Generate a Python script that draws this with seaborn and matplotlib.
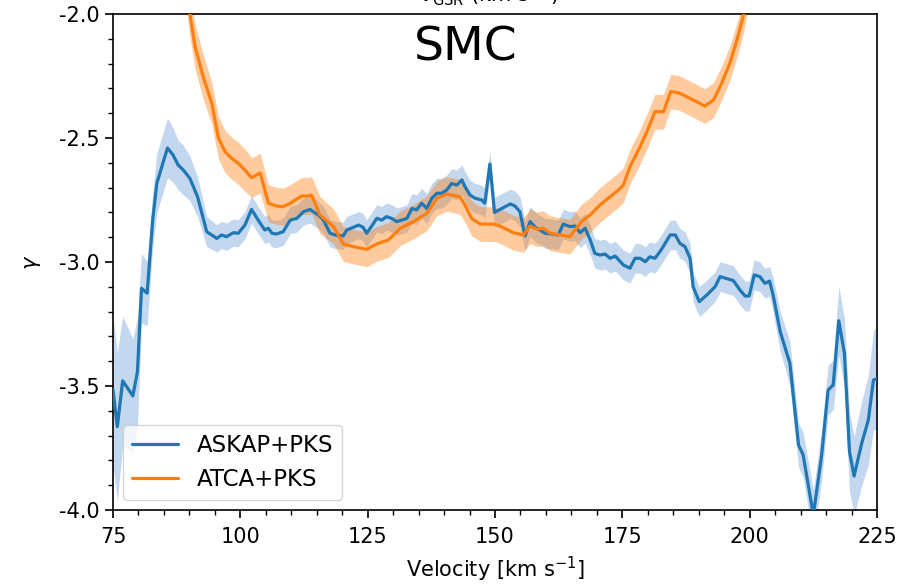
import numpy as np
import pandas as pd
import matplotlib
matplotlib.use("Agg")
import matplotlib.pyplot as plt
from matplotlib.ticker import MultipleLocator
import seaborn as sns

# ---------------- data ----------------
askap_v = [75.0, 75.85, 76.9, 78.9, 79.8, 80.6, 81.7, 82.8, 83.6, 85.7, 86.8, 87.8, 88.8,
           90.1, 91.6, 93.4, 95.4, 96.3, 97.3, 98.6, 99.6, 100.9, 102.2, 103.5, 104.8,
           105.5, 106.2, 107.1, 108.4, 109.8, 111.1, 112.4, 113.7, 114.3, 115.3, 116.3,
           117.6, 118.6, 120.2, 120.9, 122.2, 123.2, 124.1, 124.8, 125.8, 126.8, 127.8,
           128.7, 129.7, 130.7, 131.7, 132.7, 133.7, 134.6, 135.6, 136.6, 137.6, 138.6,
           139.5, 140.5, 141.5, 142.5, 143.5, 144.1, 145.1, 146.1, 147.4, 148.0, 149.0,
           149.9, 151.0, 152.0, 153.0, 153.9, 154.9, 155.9, 156.9, 157.9, 158.8, 159.8,
           161.1, 162.4, 163.4, 164.7, 165.7, 166.7, 167.7, 168.7, 169.6, 170.6, 171.6,
           172.6, 173.6, 175.2, 176.5, 177.5, 178.5, 179.5, 180.4, 181.4, 182.4, 183.4,
           184.4, 185.4, 186.3, 187.3, 188.3, 188.9, 190.1, 191.6, 193.2, 194.2, 196.8,
           198.1, 199.1, 199.9, 200.9, 202.0, 203.0, 203.9, 204.6, 206.0, 207.9, 209.6,
           210.5, 212.5, 214.1, 215.4, 216.4, 217.5, 218.6, 219.6, 220.5, 222.0, 223.3,
           224.3, 225.0]
askap_g = [-3.516, -3.664, -3.479, -3.540, -3.442, -3.106, -3.126, -2.830, -2.683, -2.540,
           -2.569, -2.609, -2.629, -2.663, -2.737, -2.878, -2.905, -2.891, -2.898, -2.882,
           -2.884, -2.851, -2.788, -2.831, -2.871, -2.864, -2.884, -2.887, -2.878, -2.831,
           -2.824, -2.797, -2.788, -2.797, -2.810, -2.830, -2.884, -2.891, -2.895, -2.871,
           -2.860, -2.851, -2.860, -2.884, -2.855, -2.824, -2.831, -2.817, -2.824, -2.837,
           -2.831, -2.824, -2.784, -2.790, -2.763, -2.784, -2.743, -2.723, -2.723, -2.710,
           -2.683, -2.690, -2.669, -2.696, -2.730, -2.743, -2.750, -2.763, -2.605, -2.800,
           -2.788, -2.777, -2.766, -2.774, -2.797, -2.895, -2.837, -2.860, -2.871, -2.884,
           -2.887, -2.891, -2.847, -2.857, -2.855, -2.882, -2.864, -2.911, -2.965, -2.972,
           -2.968, -2.985, -2.976, -3.012, -3.025, -2.985, -2.985, -2.999, -2.979, -2.985,
           -2.958, -2.925, -2.891, -2.891, -2.925, -2.938, -2.985, -3.100, -3.160, -3.133,
           -3.100, -3.059, -3.075, -3.113, -3.137, -3.137, -3.052, -3.059, -3.086, -3.077,
           -3.133, -3.281, -3.409, -3.738, -3.778, -4.020, -3.785, -3.516, -3.496, -3.237,
           -3.368, -3.765, -3.863, -3.731, -3.637, -3.476, -3.470]
askap_err = [0.30, 0.30, 0.26, 0.23, 0.22, 0.14, 0.13, 0.11, 0.12, 0.12,
             0.11, 0.10, 0.10, 0.09, 0.08, 0.06, 0.055, 0.055, 0.055, 0.055,
             0.055, 0.055, 0.055, 0.055, 0.055, 0.055, 0.055, 0.055, 0.055, 0.055,
             0.055, 0.055, 0.055, 0.055, 0.055, 0.055, 0.055, 0.055, 0.055, 0.055,
             0.055, 0.055, 0.055, 0.055, 0.055, 0.055, 0.055, 0.055, 0.055, 0.055,
             0.055, 0.055, 0.06, 0.06, 0.06, 0.06, 0.06, 0.06, 0.06, 0.06,
             0.06, 0.06, 0.06, 0.06, 0.06, 0.06, 0.06, 0.06, 0.05, 0.06,
             0.06, 0.06, 0.06, 0.06, 0.06, 0.06, 0.06, 0.06, 0.06, 0.06,
             0.06, 0.06, 0.06, 0.06, 0.06, 0.06, 0.06, 0.06, 0.06, 0.06,
             0.06, 0.06, 0.06, 0.06, 0.06, 0.06, 0.06, 0.06, 0.06, 0.06,
             0.06, 0.06, 0.06, 0.06, 0.06, 0.06, 0.06, 0.06, 0.06, 0.06,
             0.06, 0.06, 0.06, 0.06, 0.06, 0.06, 0.06, 0.06, 0.06, 0.06,
             0.07, 0.08, 0.09, 0.09, 0.09, 0.10, 0.10, 0.10, 0.10, 0.14,
             0.14, 0.16, 0.16, 0.17, 0.18, 0.20, 0.21]

atca_v = [89.0, 90.1, 91.1, 92.7, 94.4, 95.7, 97.0, 98.3, 99.6, 100.9, 102.2, 103.9,
          105.5, 107.1, 108.4, 109.8, 112.0, 113.3, 114.0, 115.6, 118.3, 120.2, 122.2,
          124.8, 126.8, 129.1, 131.4, 134.0, 136.6, 138.6, 140.5, 143.1, 144.1, 145.4,
          147.1, 149.7, 151.0, 153.6, 155.6, 156.9, 158.2, 159.5, 160.8, 162.8, 164.7,
          165.7, 167.0, 168.7, 170.6, 172.6, 174.2, 175.2, 176.5, 178.5, 180.1, 181.4,
          183.1, 184.5, 186.0, 187.6, 189.6, 191.2, 192.9, 194.5, 196.1, 197.5, 198.8,
          200.0]
atca_g = [-1.800, -2.000, -2.130, -2.253, -2.360, -2.500, -2.555, -2.582, -2.602, -2.629,
          -2.660, -2.641, -2.763, -2.774, -2.777, -2.763, -2.734, -2.734, -2.730, -2.810,
          -2.857, -2.927, -2.938, -2.949, -2.927, -2.911, -2.864, -2.837, -2.804, -2.743,
          -2.726, -2.737, -2.770, -2.824, -2.847, -2.847, -2.855, -2.882, -2.891, -2.855,
          -2.868, -2.864, -2.884, -2.891, -2.898, -2.871, -2.837, -2.810, -2.770, -2.737,
          -2.710, -2.690, -2.616, -2.535, -2.461, -2.394, -2.394, -2.313, -2.317, -2.333,
          -2.354, -2.371, -2.347, -2.279, -2.199, -2.105, -2.004, -1.880]
atca_err = [0.09, 0.09, 0.09, 0.09, 0.085, 0.085, 0.085, 0.085, 0.085, 0.085, 0.08, 0.08,
            0.075, 0.075, 0.075, 0.075, 0.075, 0.075, 0.075, 0.075, 0.07, 0.07, 0.07,
            0.07, 0.07, 0.07, 0.07, 0.07, 0.07, 0.07, 0.07, 0.07, 0.07, 0.07,
            0.07, 0.07, 0.07, 0.07, 0.07, 0.07, 0.07, 0.07, 0.07, 0.07, 0.07,
            0.07, 0.07, 0.07, 0.07, 0.07, 0.07, 0.07, 0.07, 0.07, 0.07, 0.07,
            0.07, 0.07, 0.07, 0.07, 0.07, 0.07, 0.07, 0.07, 0.07, 0.07, 0.07,
            0.07]

series_names = ["ASKAP+PKS", "ATCA+PKS"]
x_ticks = [75, 100, 125, 150, 175, 200, 225]
y_ticks = [-4.0, -3.5, -3.0, -2.5, -2.0]

# ---------------- figure ----------------
sns.set_theme(style="ticks")
plt.rcParams["font.family"] = ["DejaVu Sans"]
plt.rcParams["axes.unicode_minus"] = False
plt.rcParams["text.color"] = "black"
plt.rcParams["axes.labelcolor"] = "black"
plt.rcParams["xtick.color"] = "black"
plt.rcParams["ytick.color"] = "black"

df = pd.concat([
    pd.DataFrame({"v": askap_v, "g": askap_g, "err": askap_err, "set": series_names[0]}),
    pd.DataFrame({"v": atca_v, "g": atca_g, "err": atca_err, "set": series_names[1]}),
], ignore_index=True)

fig = plt.figure(figsize=(9.07, 5.84), dpi=100)
ax = fig.add_axes([113 / 907, 1 - 510 / 584, 764 / 907, 496 / 584])

line_cols = {"ASKAP+PKS": "#1f77b4", "ATCA+PKS": "#ff7f0e"}
fill_cols = {"ASKAP+PKS": ("#6b9bd8", 0.4), "ATCA+PKS": ("#ff7f0e", 0.4)}

for name in series_names:
    d = df[df["set"] == name]
    c, a = fill_cols[name]
    ax.fill_between(d["v"], d["g"] - d["err"], d["g"] + d["err"], color=c, alpha=a,
                    linewidth=0, zorder=1)

sns.lineplot(data=df, x="v", y="g", hue="set", palette=line_cols, hue_order=series_names,
             linewidth=2.3, ax=ax, sort=False, estimator=None, zorder=3)

ax.set_xlim(75, 225)
ax.set_ylim(-4.0, -2.0)
ax.set_xticks(x_ticks)
ax.set_yticks(y_ticks)
ax.set_xticklabels([str(t) for t in x_ticks])
ax.set_yticklabels([f"{t:.1f}" for t in y_ticks])
ax.xaxis.set_minor_locator(MultipleLocator(5))
ax.yaxis.set_minor_locator(MultipleLocator(0.1))
ax.tick_params(which="major", direction="out", length=6, width=1.2, labelsize=15,
               color="black", labelcolor="black")
ax.tick_params(axis="x", which="major", pad=6)
ax.tick_params(which="minor", direction="out", length=3.5, width=1.0, color="black")
for s in ax.spines.values():
    s.set_visible(True)
    s.set_color("black")
    s.set_linewidth(1.2)

ax.set_xlabel("Velocity [km s$^{-1}$]", fontsize=15, labelpad=5.5, color="black")
ax.set_ylabel(r"$\gamma$", fontsize=15, labelpad=12, color="black")

ax.text(0.461, 0.931, "SMC", transform=ax.transAxes, ha="center", va="center",
        fontsize=34, color="black")

leg = ax.legend(loc="lower left", fontsize=16.5, frameon=True, handlelength=2.0,
                labelspacing=0.45, borderaxespad=0.45)
leg.get_frame().set_edgecolor("#cccccc")
for t in leg.get_texts():
    t.set_color("black")
for h in leg.get_lines():
    h.set_linewidth(2.3)

# label of the panel above, mostly cut off by the figure edge
fig.text(0.54, 1 - 1.5 / 584, r"$v_{\rm GSR}$ (km s$^{-1}$)", ha="center", va="baseline",
         fontsize=15, color="black")

fig.savefig("out.png", dpi=100)
